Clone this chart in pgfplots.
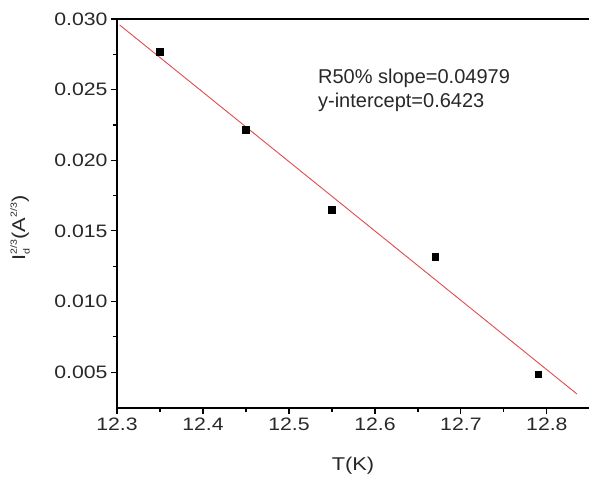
\documentclass[border=0pt]{standalone}
\usepackage{fontspec}
\setmainfont{Liberation Sans}[FakeStretch=1.18]
\newfontfamily\annfont{Liberation Sans}
\usepackage{pgfplots}
\pgfplotsset{compat=1.18}
\definecolor{fitred}{RGB}{225,75,75}
\definecolor{txt}{RGB}{40,40,40}
\newcommand{\ssc}[1]{{\fontsize{9bp}{9bp}\selectfont #1}}
\begin{document}
\begin{tikzpicture}
\useasboundingbox (-117bp,-75bp) rectangle (472bp,408bp);
\begin{axis}[
  scale only axis, width=472bp, height=389bp,
  xmin=12.3, xmax=12.849, ymin=0.00246, ymax=0.030,
  axis lines*=left,
  clip=false,
  axis line style={line width=1.6bp, black},
  xtick={12.3,12.4,12.5,12.6,12.7,12.8},
  ytick={0.005,0.01,0.015,0.02,0.025,0.03},
  minor x tick num=1, minor y tick num=1,
  tick align=outside,
  major tick length=6bp, minor tick length=4bp,
  every tick/.style={line width=1.2bp, black},
  scaled y ticks=false, scaled x ticks=false,
  ticklabel style={font=\fontsize{18bp}{20bp}\selectfont, text=txt},
  yticklabel style={/pgf/number format/fixed, /pgf/number format/fixed zerofill, /pgf/number format/precision=3, /pgf/number format/assume math mode=true},
  xticklabel style={/pgf/number format/fixed, /pgf/number format/fixed zerofill, /pgf/number format/precision=1, /pgf/number format/assume math mode=true},
  xlabel={T(K)},
  ylabel={I\rlap{\raisebox{-0.45ex}{\ssc{d}}}\raisebox{0.85ex}{\ssc{2/3}}(A\raisebox{0.85ex}{\ssc{2/3}})},
  label style={font=\fontsize{18.5bp}{20bp}\selectfont, text=txt},
  xlabel style={at={(axis description cs:0.5,-0.149)}, anchor=center},
  ylabel style={at={(axis description cs:-0.2055,0.463)}, anchor=center},
]
\draw[line width=1.6bp, black] (rel axis cs:0,1) -- (rel axis cs:1,1);
\addplot[fitred, line width=0.9bp] coordinates {(12.303,0.02958) (12.835,0.00345)};
\addplot[only marks, mark=square*, mark size=3.3bp, black] coordinates {
  (12.35,0.02768) (12.45,0.02218) (12.55,0.01648) (12.67,0.01317) (12.79,0.00486)};
\node[anchor=north west, align=left, inner sep=0pt, text=txt,
  font=\annfont\fontsize{20bp}{24bp}\selectfont] at (axis cs:12.5337,0.0265)
  {R50\% slope=0.04979\\y-intercept=0.6423};
\end{axis}
\end{tikzpicture}
\end{document}
